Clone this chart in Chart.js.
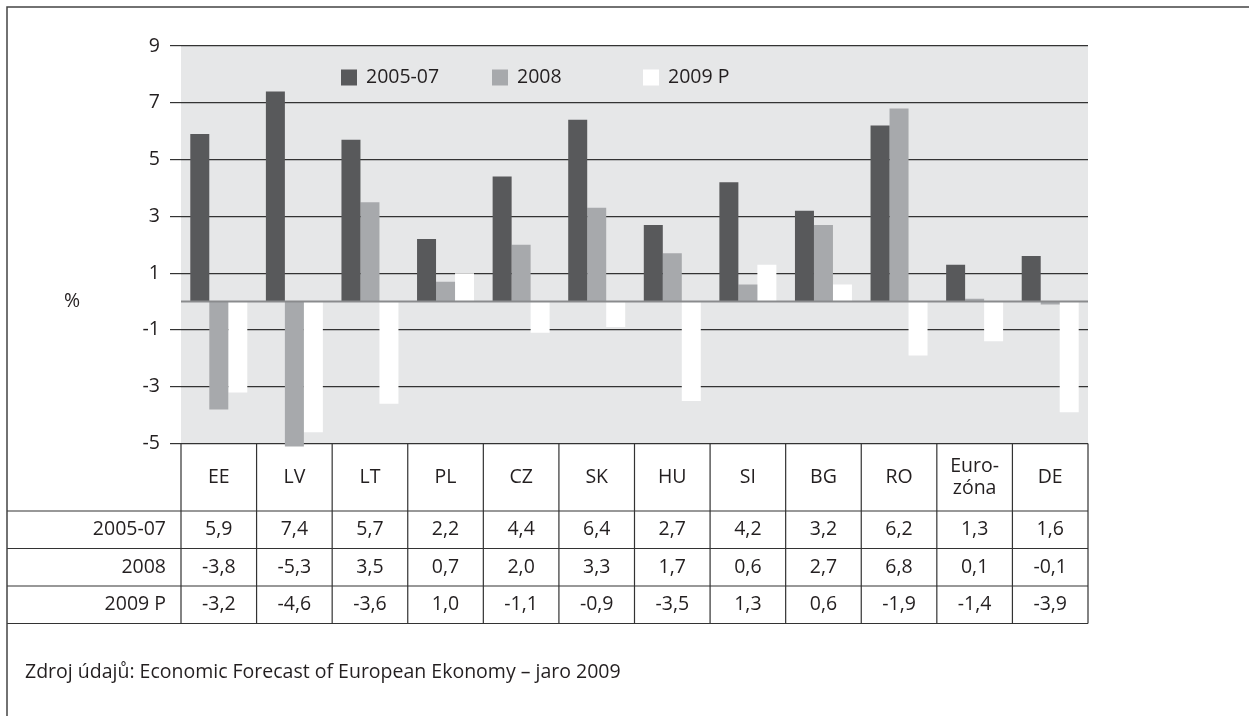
<!DOCTYPE html>
<html lang="cs">
<head>
<meta charset="utf-8">
<title>Růst HDP</title>
<script src="https://cdn.jsdelivr.net/npm/chart.js@4/dist/chart.umd.min.js"></script>
<style>
  html, body { margin: 0; padding: 0; background: #fff; }
  canvas { display: block; }
</style>
</head>
<body>
<canvas id="chart" width="1249" height="716"></canvas>
<script>
const categories = ['EE', 'LV', 'LT', 'PL', 'CZ', 'SK', 'HU', 'SI', 'BG', 'RO', ['Euro-', 'zóna'], 'DE'];
const seriesNames = ['2005-07', '2008', '2009 P'];
const values2005to07 = [5.9, 7.4, 5.7, 2.2, 4.4, 6.4, 2.7, 4.2, 3.2, 6.2, 1.3, 1.6];
const values2008 = [-3.8, -5.3, 3.5, 0.7, 2.0, 3.3, 1.7, 0.6, 2.7, 6.8, 0.1, -0.1];
const values2009 = [-3.2, -4.6, -3.6, 1.0, -1.1, -0.9, -3.5, 1.3, 0.6, -1.9, -1.4, -3.9];
const yMin = -5;
const yMax = 9;
const yStep = 2;
const axisTitle = '%';
const sourceNote = 'Zdroj údajů: Economic Forecast of European Ekonomy – jaro 2009';

const FONT = '"Open Sans", "DejaVu Sans", sans-serif';
const FONT_SIZE = 19.5;
const INK = '#231f20';
const LINE = '#333333';
const barColors = ['#58595b', '#a7a9ac', '#ffffff'];

const fmt = v => v.toFixed(1).replace('.', ',');

// frame, grey plot background, data table under the bars, zero line and legend
const decorations = {
  id: 'decorations',
  beforeDraw(chart) {
    const { ctx, chartArea: a } = chart;
    ctx.save();
    ctx.fillStyle = '#e6e7e8';
    ctx.fillRect(a.left, a.top, a.right - a.left, a.bottom - a.top);
    ctx.restore();
  },
  beforeDatasetsDraw(chart) {
    const { ctx, chartArea: a, scales } = chart;
    const x = scales.x;
    const frameX = 7;
    const headBottom = a.bottom + 67.5;
    const rowH = 37.5;
    const rows = chart.data.datasets;
    const colW = (a.right - a.left) / categories.length;

    ctx.save();
    ctx.strokeStyle = LINE;
    ctx.lineWidth = 1.2;
    ctx.beginPath();
    ctx.moveTo(a.left, a.bottom);
    ctx.lineTo(a.right, a.bottom);
    for (let r = 0; r <= rows.length; r++) {
      const y = headBottom + r * rowH;
      ctx.moveTo(frameX, y);
      ctx.lineTo(a.right, y);
    }
    const tableBottom = headBottom + rows.length * rowH;
    for (let i = 0; i <= categories.length; i++) {
      const cx = a.left + i * colW;
      ctx.moveTo(cx, a.bottom);
      ctx.lineTo(cx, tableBottom);
    }
    ctx.stroke();

    ctx.fillStyle = INK;
    ctx.font = FONT_SIZE + 'px ' + FONT;
    ctx.textBaseline = 'middle';
    ctx.textAlign = 'center';
    categories.forEach((c, i) => {
      const cx = x.getPixelForValue(i);
      const lines = Array.isArray(c) ? c : [c];
      const mid = (a.bottom + headBottom) / 2;
      lines.forEach((t, k) => {
        ctx.fillText(t, cx, mid + (k - (lines.length - 1) / 2) * 22);
      });
    });
    rows.forEach((ds, r) => {
      const cy = headBottom + (r + 0.5) * rowH;
      ctx.textAlign = 'right';
      ctx.fillText(ds.label, 166, cy);
      ctx.textAlign = 'center';
      ds.data.forEach((v, i) => ctx.fillText(fmt(v), x.getPixelForValue(i), cy));
    });

    ctx.textAlign = 'left';
    ctx.fillText(sourceNote, 25, tableBottom + 49);
    ctx.textAlign = 'center';
    ctx.fillText(axisTitle, 72, scales.y.getPixelForValue(0));
    ctx.restore();
  },
  afterDatasetsDraw(chart) {
    const { ctx, chartArea: a, scales } = chart;
    const y0 = scales.y.getPixelForValue(0);
    ctx.save();
    ctx.strokeStyle = '#8a8b8d';
    ctx.lineWidth = 2;
    ctx.beginPath();
    ctx.moveTo(a.left, y0);
    ctx.lineTo(a.right, y0);
    ctx.stroke();

    // legend row inside the plot
    ctx.font = FONT_SIZE + 'px ' + FONT;
    ctx.textBaseline = 'middle';
    ctx.textAlign = 'left';
    chart.data.datasets.forEach((ds, i) => {
      const lx = a.left + 160 + i * 151;
      const ly = a.top + 23.5;
      ctx.fillStyle = ds.backgroundColor;
      ctx.fillRect(lx, ly, 16, 16);
      ctx.fillStyle = INK;
      ctx.fillText(ds.label, lx + 25, ly + 8);
    });
    ctx.restore();
  },
  afterDraw(chart) {
    const { ctx, width, height } = chart;
    ctx.save();
    ctx.strokeStyle = '#444';
    ctx.lineWidth = 1.5;
    ctx.beginPath();
    ctx.moveTo(7, height);
    ctx.lineTo(7, 7);
    ctx.lineTo(width, 7);
    ctx.stroke();
    ctx.restore();
  }
};

const barClip = { left: 0, top: 0, right: 0, bottom: 3 };

new Chart(document.getElementById('chart'), {
  type: 'bar',
  data: {
    labels: categories,
    datasets: [
      { label: seriesNames[0], data: values2005to07, backgroundColor: barColors[0], clip: barClip },
      { label: seriesNames[1], data: values2008, backgroundColor: barColors[1], clip: barClip },
      { label: seriesNames[2], data: values2009, backgroundColor: barColors[2], clip: barClip }
    ]
  },
  options: {
    responsive: false,
    animation: false,
    layout: {
      padding: { top: 46, right: 161, bottom: 272.5, left: 0 }
    },
    datasets: {
      bar: {
        barPercentage: 1,
        categoryPercentage: 0.754
      }
    },
    plugins: {
      legend: { display: false },
      tooltip: { enabled: false }
    },
    scales: {
      x: {
        display: false
      },
      y: {
        min: yMin,
        max: yMax,
        afterFit: scale => { scale.width = 181; },
        border: { display: false },
        grid: {
          color: LINE,
          lineWidth: 1.2,
          tickLength: 11,
          drawTicks: true
        },
        ticks: {
          stepSize: yStep,
          padding: 10,
          color: INK,
          font: { family: FONT, size: FONT_SIZE }
        }
      }
    }
  },
  plugins: [decorations]
});
</script>
</body>
</html>
